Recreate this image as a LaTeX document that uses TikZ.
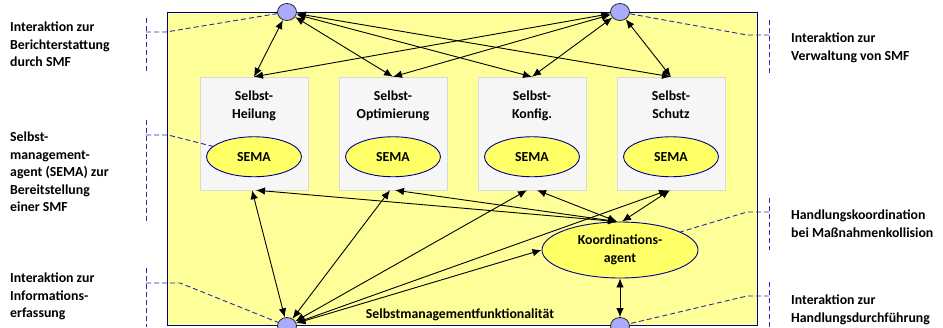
\documentclass[tikz,border=0pt]{standalone}
\usepackage{fontspec}
\setmainfont{Carlito}
\usepackage{tikz}
\usetikzlibrary{arrows.meta,shapes,positioning}
\usepackage{xcolor}
\definecolor{smfyellow}{RGB}{255,255,153}
\definecolor{semayellow}{RGB}{255,255,102}
\definecolor{smfnavy}{RGB}{0,0,140}
\definecolor{boxfill}{RGB}{246,246,246}
\definecolor{boxgray}{RGB}{217,217,217}
\definecolor{portblue}{RGB}{170,170,255}
\definecolor{leaderblue}{RGB}{40,40,170}
\newcommand{\smffont}{\fontsize{13.8}{17.5}\selectfont\bfseries}
\tikzstyle{smfframe} = [rectangle, draw=smfnavy, fill=smfyellow, line width=0.9pt, minimum width=590pt, minimum height=313pt, inner sep=0pt]
\tikzstyle{smfbox} = [rectangle, draw=boxgray, fill=boxfill, minimum width=108pt, minimum height=113pt, inner sep=0pt]
\tikzstyle{boxtitle} = [align=center, font=\smffont, inner sep=0pt]
\tikzstyle{sema} = [ellipse, draw=smfnavy, fill=semayellow, line width=0.9pt, minimum width=95pt, minimum height=40pt, font=\smffont]
\tikzstyle{port} = [ellipse, draw=black!85, fill=portblue, minimum width=19pt, minimum height=17pt, inner sep=0pt, line width=0.8pt]
\tikzstyle{link} = [<->, >={Latex[length=9pt,width=7.5pt]}, line width=0.9pt]
\tikzstyle{leader} = [dash pattern=on 5pt off 3pt, draw=leaderblue, line width=0.9pt]
\tikzstyle{annot} = [align=left, anchor=north west, font=\smffont, inner sep=0pt]

\begin{document}
\begin{tikzpicture}[x=1pt, y=-1pt]
\useasboundingbox (0,0) rectangle (943,327);

% SMF frame
\node (smf) [smfframe] at (462,168.5) {};
\node (smftext) [font=\smffont] at (460,315) {Selbstmanagementfunktionalit\"at};

% Self-x boxes
\node (heilung) [smfbox] at (254,133.5) {};
\node (optim) [smfbox, right of=heilung, node distance=139pt] {};
\node (konfig) [smfbox, right of=optim, node distance=139pt] {};
\node (schutz) [smfbox, right of=konfig, node distance=139pt] {};

\node (heilungtext) [boxtitle, below=14pt of heilung.north] {Selbst-\\Heilung};
\node (optimtext) [boxtitle, below=14pt of optim.north] {Selbst-\\Optimierung};
\node (konfigtext) [boxtitle, below=14pt of konfig.north] {Selbst-\\Konfig.};
\node (schutztext) [boxtitle, below=14pt of schutz.north] {Selbst-\\Schutz};

% SEMA agents
\node (sema1) [sema, above=13pt of heilung.south] {SEMA};
\node (sema2) [sema, above=13pt of optim.south] {SEMA};
\node (sema3) [sema, above=13pt of konfig.south] {SEMA};
\node (sema4) [sema, above=13pt of schutz.south] {SEMA};

% Coordination agent
\node (koord) [sema, minimum width=156pt, minimum height=56pt, inner sep=0pt, align=center] at (620,250) {Koordinations-\\agent};

% Interfaces
\node (top1) [port] at (287,12) {};
\node (top2) [port] at (620,12) {};
\node (bot1) [port] at (287,326) {};
\node (bot2) [port] at (620,326) {};

% Reporting and management
\draw[link] (top1) -- (heilung.north);
\draw[link] (top1) -- (optim.north);
\draw[link] (top1) -- (konfig.north);
\draw[link] (top1) -- (schutz.north);
\draw[link] (top2) -- (heilung.north);
\draw[link] (top2) -- (optim.north);
\draw[link] (top2) -- (konfig.north);
\draw[link] (top2) -- (schutz.north);

% Information gathering
\draw[link] (bot1) -- ([xshift=-2pt]heilung.south);
\draw[link] (bot1) -- ([xshift=-3pt]optim.south);
\draw[link] (bot1) -- ([xshift=-5pt]konfig.south);
\draw[link] (bot1) -- ([xshift=-3pt]schutz.south);
\draw[link] (bot1) -- (koord.west);

% Coordination
\draw[link] ([xshift=-3pt]koord.north) -- ([xshift=2pt]heilung.south);
\draw[link] ([xshift=-3pt]koord.north) -- ([xshift=2pt]optim.south);
\draw[link] ([xshift=-3pt]koord.north) -- ([xshift=5pt]konfig.south);
\draw[link] ([xshift=2pt]koord.north) -- ([xshift=-1pt]schutz.south);
\draw[link] (koord.south) -- (bot2);

% Left annotations
\draw[leader] (146,18) -- (146,72);
\draw[leader] (146,120) -- (146,223);
\draw[leader] (146,268) -- (146,327);
\coordinate (lb1) at (146,32);
\coordinate (lb2) at (146,135);
\coordinate (lb3) at (146,283);
\draw[leader] (lb1) -- ++(20,0) -- (top1);
\draw[leader] (lb2) -- ++(22,0) -- (sema1);
\draw[leader] (lb3) -- ++(34,0) -- (bot1);

\node (berichtlabel) [annot] at (10,22) {Interaktion zur\\Berichterstattung\\durch SMF};
\node (semalabel) [annot] at (10,132) {Selbst-\\management-\\agent (SEMA) zur\\Bereitstellung\\einer SMF};
\node (infolabel) [annot] at (10,273) {Interaktion zur\\Informations-\\erfassung};

% Right annotations
\draw[leader] (769,20) -- (769,73);
\draw[leader] (769,198) -- (769,250);
\draw[leader] (769,282) -- (769,327);
\coordinate (rb1) at (769,35);
\coordinate (rb2) at (769,212);
\coordinate (rb3) at (769,296);
\draw[leader] (rb1) -- ++(-22,0) -- (top2);
\draw[leader] (rb2) -- ++(-22,0) -- (koord);
\draw[leader] (rb3) -- ++(-22,0) -- (bot2);

\node (verwlabel) [annot] at (791,33) {Interaktion zur\\Verwaltung von SMF};
\node (kolllabel) [annot] at (791,210) {Handlungskoordination\\bei Ma\ss nahmenkollision};
\node (durchlabel) [annot] at (791,295) {Interaktion zur\\Handlungsdurchf\"uhrung};

\end{tikzpicture}
\end{document}
